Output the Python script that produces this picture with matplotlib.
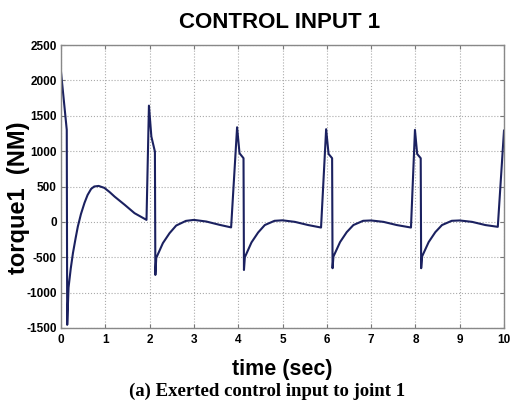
import matplotlib
matplotlib.use("Agg")
import matplotlib.pyplot as plt

time_sec = [0.00, 0.13, 0.14, 0.17, 0.22, 0.27, 0.33, 0.38, 0.45, 0.53, 0.60, 0.68, 0.75, 0.85, 0.98, 1.10, 1.21, 1.44, 1.66, 1.93,
            1.985, 2.04, 2.12, 2.13, 2.15, 2.30, 2.45, 2.60, 2.82, 3.00, 3.28, 3.58, 3.84,
            3.975, 4.03, 4.12, 4.13, 4.15, 4.30, 4.45, 4.60, 4.82, 5.00, 5.28, 5.58, 5.87,
            5.985, 6.04, 6.12, 6.13, 6.15, 6.30, 6.45, 6.60, 6.82, 7.00, 7.28, 7.58, 7.90,
            7.99, 8.04, 8.12, 8.13, 8.15, 8.30, 8.45, 8.60, 8.82, 9.00, 9.28, 9.58, 9.86,
            10.00]
torque1 = [2120, 1300, -1455, -930, -660, -440, -230, -66, 110, 268, 380, 466, 500, 508, 480, 420, 357, 240, 123, 28,
           1643, 1205, 993, -750, -510, -300, -160, -52, 14, 28, 5, -42, -78,
           1337, 970, 900, -680, -500, -290, -150, -45, 15, 22, 0, -45, -80,
           1310, 960, 900, -655, -490, -285, -145, -45, 15, 20, 0, -45, -80,
           1300, 960, 900, -655, -490, -285, -145, -45, 15, 20, 0, -45, -70,
           1290]

x_ticks = [0, 1, 2, 3, 4, 5, 6, 7, 8, 9, 10]
y_ticks = [-1500, -1000, -500, 0, 500, 1000, 1500, 2000, 2500]

fig = plt.figure(figsize=(5.12, 4.01), dpi=100)
ax = fig.add_axes([61/512, 1-328/401, (504-61)/512, (328-45)/401])

ax.plot(time_sec, torque1, color='#1b2160', lw=1.5)

ax.set_xlim(0, 10)
ax.set_ylim(-1500, 2500)
ax.set_xticks(x_ticks)
ax.set_yticks(y_ticks)
ax.set_xticklabels([str(v) for v in x_ticks], fontsize=8.5, fontweight='bold', family='Liberation Sans')
ax.set_yticklabels([str(v) for v in y_ticks], fontsize=8.5, fontweight='bold', family='Liberation Sans')
ax.tick_params(direction='in', length=3, top=True, right=True, color='#777777')
ax.tick_params(axis='x', pad=4)
ax.tick_params(axis='y', pad=3)
ax.grid(True, linestyle=':', color='#aaaaaa', lw=0.8)
for s in ax.spines.values():
    s.set_color('#888888')
    s.set_linewidth(1.0)

fig.text(280/512, 1-22/401, 'CONTROL INPUT 1', ha='center', va='center',
         fontsize=16, fontweight='bold', family='Liberation Sans')
fig.text(282/512, 1-370/401, 'time (sec)', ha='center', va='center',
         fontsize=15.5, fontweight='bold', family='Liberation Sans')
fig.text(19/512, 1-198/401, 'torque1  (NM)', ha='center', va='center', rotation=90,
         fontsize=17, fontweight='bold', family='Liberation Sans')
fig.text(267/512, 1-391/401, '(a) Exerted control input to joint 1', ha='center', va='center',
         fontsize=13.5, fontweight='bold', family='Liberation Serif')

fig.savefig('out.png', dpi=100)
